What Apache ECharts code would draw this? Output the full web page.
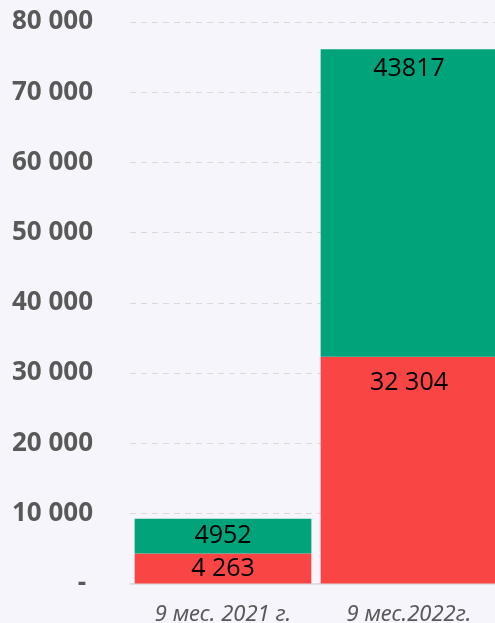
<!DOCTYPE html>
<html>
<head>
<meta charset="utf-8">
<script src="https://cdn.jsdelivr.net/npm/echarts@6/dist/echarts.min.js"></script>
<style>
  html, body { margin: 0; padding: 0; background: #f7f5fc; }
  #chart { width: 495px; height: 623px; }
</style>
</head>
<body>
<div id="chart"></div>
<script>
// data
var categories = ['9 мес. 2021 г.', '9 мес.2022г.'];
var redValues = [4263, 32304];
var greenValues = [4952, 43817];
var redLabels = ['4 263', '32 304'];
var greenLabels = ['4952', '43817'];

function fmtTick(v) {
  if (v === 0) return '{z|-}';
  return String(v).replace(/\B(?=(\d{3})+(?!\d))/g, ' ');
}

var myChart = echarts.init(document.getElementById('chart'));

var option = {
  backgroundColor: '#f7f5fc',
  animation: false,
  grid: {
    left: 130,
    right: -7,
    top: 22,
    bottom: 39.5,
    containLabel: false,
    outerBoundsMode: 'none'
  },
  xAxis: {
    type: 'category',
    data: categories,
    axisTick: { show: false },
    axisLine: { lineStyle: { color: '#d9d9d9', width: 1.5 } },
    axisLabel: {
      margin: 20,
      color: '#595959',
      fontSize: 22,
      fontStyle: 'italic',
      fontFamily: 'Noto Sans'
    }
  },
  yAxis: {
    type: 'value',
    min: 0,
    max: 80000,
    interval: 10000,
    axisLine: { show: false },
    axisTick: { show: false },
    splitLine: { lineStyle: { color: '#d9d9d9', type: [6, 5], width: 1 } },
    axisLabel: {
      margin: 37,
      color: '#595959',
      fontSize: 26,
      fontWeight: 'bold',
      fontFamily: 'Open Sans',
      formatter: fmtTick,
      rich: {
        z: { fontSize: 26, fontWeight: 'bold', color: '#595959', padding: [0, 7, 0, 0] }
      }
    }
  },
  series: [
    {
      name: 'red',
      type: 'bar',
      stack: 'a',
      barCategoryGap: '5%',
      itemStyle: { color: '#fa4545' },
      label: {
        show: true,
        position: 'insideTop',
        distance: 14,
        color: '#000',
        fontSize: 25,
        fontFamily: 'Open Sans',
        formatter: function (p) { return redLabels[p.dataIndex]; }
      },
      data: [
        { value: redValues[0], label: { position: 'inside' } },
        redValues[1]
      ]
    },
    {
      name: 'green',
      type: 'bar',
      stack: 'a',
      barCategoryGap: '5%',
      itemStyle: { color: '#00a37a' },
      label: {
        show: true,
        position: 'insideTop',
        distance: 7,
        color: '#000',
        fontSize: 25,
        fontFamily: 'Open Sans',
        formatter: function (p) { return greenLabels[p.dataIndex]; }
      },
      data: [
        { value: greenValues[0], label: { position: 'inside' } },
        greenValues[1]
      ]
    }
  ]
};

option && myChart.setOption(option);
</script>
</body>
</html>
